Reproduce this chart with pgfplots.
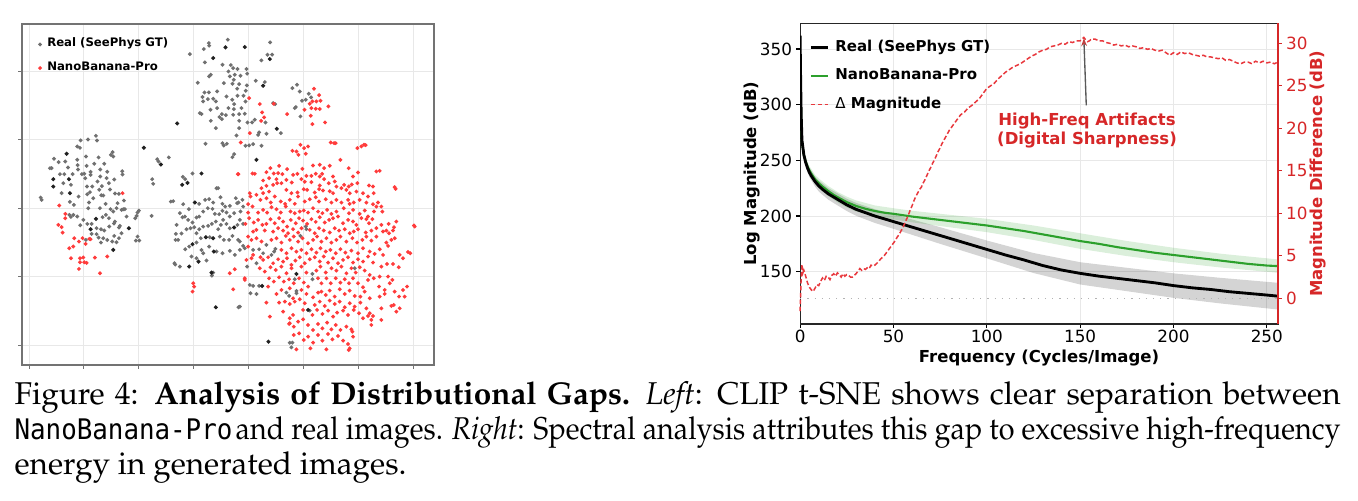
\documentclass[border=0pt]{standalone}
\usepackage[T1,TU]{fontenc}
\usepackage{fontspec}
\usepackage{graphicx}
\usepackage{pgfplots}
\pgfplotsset{compat=1.18}
\usetikzlibrary{arrows.meta}
\newfontfamily\dv{DejaVu Sans}
\newfontfamily\dvmono{DejaVu Sans Mono}[Scale=0.9]
\newcommand\capfont{\fontencoding{T1}\fontfamily{ppl}\selectfont}
\definecolor{tabred}{HTML}{D62728}
\definecolor{tabgreen}{HTML}{2CA02C}
\definecolor{ptred}{HTML}{FF3B3B}
\definecolor{ptgray}{HTML}{707070}
\definecolor{ptdark}{HTML}{202020}
\definecolor{linered}{HTML}{E8383D}
\begin{document}
\begin{tikzpicture}
\useasboundingbox (0,0) rectangle (452.67pt,166.67pt);
% ---------------- left: t-SNE ----------------
\begin{axis}[
  at={(7.33pt,45pt)}, anchor=south west, scale only axis,
  width=137.33pt, height=113.67pt,
  xmin=66, xmax=1303, ymin=13, ymax=1035, y dir=reverse,
  xtick={88,250,415,580,745,910,1075,1240},
  ytick={155,360,565,770,975},
  xticklabel=\empty, yticklabel=\empty,
  xtick pos=left, ytick pos=left, tick align=outside,
  major tick length=1.2pt, tick style={black!55, line width=0.3pt},
  axis line style={black!55, line width=0.4pt},
  grid=major, grid style={black!9, line width=0.3pt},
  legend style={at={(axis description cs:0.032,0.988)}, anchor=north west,
    draw=none, fill=none, font=\dv\bfseries\fontsize{3.9}{4.6}\selectfont,
    row sep=-0.5pt, inner sep=1pt},
  legend cell align=left,
  legend image code/.code={\draw[mark repeat=2,mark phase=2,#1] plot coordinates {(0pt,0pt) (2pt,0pt) (7pt,0pt)};},
]
\addplot[only marks, mark=*, mark size=0.42pt, color=ptgray] coordinates {
(684,60) (627,70) (628,78) (612,88) (570,103) (615,128) (803,105) (817,105) (785,122) (693,136) (668,135) (700,145) (713,148) (740,148) (742,162) (686,155) (705,165) (722,168) (690,170) (633,165) (628,170) (768,183) (795,187) (594,189) (672,190) (702,180) (698,192) (718,193) (712,207) (741,197) (738,213) (614,218) (627,218) (652,215) (608,232) (624,238) (640,237) (680,230) (697,240) (713,228) (731,228) (610,245) (648,245) (703,253) (737,245) (725,265) (702,268) (686,265) (632,270) (652,265) (600,280) (605,283) (666,283) (678,286) (700,285) (718,283) (735,282) (765,300) (659,292) (666,298) (633,303) (718,303) (743,308) (757,308) (797,308) (648,325) (718,325) (843,340) (778,338) (775,345) (710,347) (800,342) (617,372) (668,370) (672,377) (681,372) (737,378) (748,377) (760,373) (785,378) (703,403) (698,412) (820,250) (826,253) (811,68)
(878,205) (892,195) (900,215) (927,222) (934,233) (918,240) (907,243) (885,265) (888,262) (902,290)
(122,533) (125,540) (150,445) (155,445) (162,417) (176,427) (180,463) (185,520) (190,490) (193,463) (196,425) (204,443) (210,546) (213,495) (218,463) (222,555) (232,380) (232,420) (233,436) (234,449) (236,530) (240,384) (242,362) (246,463) (253,462) (256,475) (258,410) (260,438) (261,500) (262,523) (264,359) (265,565) (267,548) (270,517) (272,456) (272,465) (277,500) (280,535) (283,432) (288,348) (291,362) (293,485) (296,413) (298,510) (301,449) (301,470) (304,526) (306,499) (310,527) (313,432) (320,475) (322,456) (327,490) (330,509) (333,405) (338,397) (340,410) (343,479) (345,521) (350,565) (353,550) (357,522) (367,454) (368,464) (370,568) (372,542) (300,565) (332,568) (317,552) (345,605) (342,611) (360,618) (365,640) (357,623) (328,620) (313,632) (303,628) (290,625) (275,612) (262,612) (250,600) (241,616) (232,590) (220,585) (213,591) (208,585) (258,660) (275,642) (290,643) (303,668) (296,653) (310,655) (322,660) (337,665) (350,667) (343,648) (357,655) (410,588) (406,595) (413,578) (417,572) (413,650) (418,662) (408,662) (457,478) (460,492) (455,588) (472,418) (476,425) (507,413) (308,592) (318,585) (327,595) (340,575) (365,570) (375,568) (380,590)
(549,471) (556,478) (578,461) (513,545) (520,544) (550,553) (540,580) (548,592) (567,568) (598,552) (616,540) (628,538) (640,548) (650,505) (655,505) (662,532) (668,552) (676,560) (690,558) (708,535) (712,550) (716,548) (728,540) (730,560) (722,575) (703,580) (690,590) (680,578) (668,573) (658,583) (645,582) (638,567) (624,565) (610,575) (598,590) (590,593) (578,608) (565,600) (555,590) (530,615) (528,642) (535,660) (527,660) (545,641) (560,628) (572,625) (583,622) (590,640) (598,628) (610,620) (625,618) (636,612) (648,605) (655,628) (663,615) (670,600) (680,612) (690,625) (713,615) (720,600) (730,612) (715,660) (720,665) (698,648) (688,660) (672,660) (660,650) (630,652) (603,655) (590,668) (568,680) (556,688) (575,710) (590,715) (605,690) (610,700) (628,680) (650,695) (668,700) (690,693) (705,705) (720,690) (730,678) (735,685) (524,730) (526,734) (540,740) (620,722) (640,758) (636,767) (742,740) (760,690) (778,688) (790,700) (815,705) (823,695) (800,675) (827,687) (750,795) (760,798) (778,798) (752,820) (770,822) (716,862) (720,860) (870,968) (878,968) (875,982) (860,818) (868,828) (890,820) (890,813) (930,872) (885,778) (938,778) (918,620) (920,628) (902,648) (1065,745) (938,762) (770,730)
};
\addlegendentry{Real (SeePhys GT)}
\addplot[only marks, mark=*, mark size=0.45pt, color=ptdark, forget plot] coordinates {
(735,82) (640,115) (810,118) (790,198) (532,311) (831,327) (770,420) (677,83) (160,478) (160,500) (200,402) (207,478) (210,520) (387,625) (288,597) (272,628) (340,690) (432,384) (483,434) (563,489) (547,495) (605,461) (585,548) (703,623) (640,655) (618,652) (578,673) (642,695) (568,740) (596,725) (635,758) (787,798) (648,862) (806,965) (890,762) (925,870)
};
\addplot[only marks, mark=*, mark size=0.42pt, color=ptred] coordinates {
(368,520) (178,557) (196,582) (196,595) (175,615) (185,622) (188,638) (208,685) (213,715) (220,680) (223,655) (237,665) (240,715) (240,727) (237,747) (250,713) (253,727) (257,672) (260,729) (268,657) (272,658) (285,713) (300,760) (322,710) (248,655)
(943,207) (958,226) (938,245) (930,252) (950,245) (962,243) (914,270) (935,265) (948,267) (960,268) (986,260) (862,283) (933,288) (938,313) (976,308) (748,235) (780,253) (787,278) (793,293) (750,340) (784,303) (723,368) (714,463) (716,463) (758,461) (822,252)
(993,368) (1003,370) (1008,370) (1073,385) (1085,380) (1093,375) (1098,376) (878,393) (890,395) (896,405) (902,375) (913,385) (918,402) (925,380) (1022,420)
(838,438) (812,445) (800,457) (822,461) (835,460) (848,463) (862,448) (880,465) (893,462) (908,447) (940,437) (948,462) (960,435) (967,462) (973,445) (990,438) (1047,445) (1000,470) (1060,470) (1075,458) (1130,455) (1140,453) (960,470) (935,468) (920,468) (808,475) (830,478) (790,482) (765,462)
(785,505) (800,498) (808,515) (820,495) (832,490) (845,490) (860,480) (876,488) (905,478) (915,486) (935,487) (960,497) (973,478) (987,490) (1005,485) (1025,505) (1033,495) (1047,500) (1056,494) (1073,490) (1108,497) (1120,500) (1185,502) (1188,507) (860,510) (875,520) (893,518) (912,508) (922,510) (945,518) (958,508) (970,512) (990,514) (1000,520) (1010,500) (1040,510) (1050,520) (1070,515) (1090,520) (1105,530) (1122,520) (750,520) (770,525) (790,520)
(752,530) (782,540) (800,535) (813,548) (825,530) (843,545) (856,552) (870,540) (885,552) (895,530) (915,545) (930,538) (948,532) (958,545) (978,538) (995,548) (1010,540) (1025,548) (1045,540) (1050,552) (1062,548) (1080,540) (1100,548) (1120,553) (1135,548) (1145,560) (1130,560) (745,553) (758,560) (775,578) (790,570) (802,578) (815,562) (830,568) (843,578) (858,560) (872,575) (885,580) (900,575) (912,572) (925,578) (940,565) (955,575) (968,580) (982,570) (995,582) (1010,575) (1032,565) (1048,580) (1060,570) (1080,582) (1095,572) (1105,590) (1123,575) (1148,575) (745,578)
(737,612) (748,595) (762,608) (775,600) (788,615) (800,612) (812,598) (825,610) (838,595) (850,605) (862,620) (873,600) (888,610) (898,595) (910,602) (922,612) (935,598) (948,606) (960,592) (975,608) (988,600) (1000,595) (1015,590) (1030,610) (1045,600) (1060,605) (1070,615) (1085,595) (1100,598) (1108,610) (1118,598) (1145,615) (1160,632) (1167,612) (1183,622) (1190,605) (1243,617) (1245,620) (760,635) (770,630) (795,632) (820,635) (835,625) (850,632) (865,640) (880,628) (895,638) (905,625) (930,630) (945,640) (958,625) (972,632) (990,638) (1005,625) (1018,632) (1035,628) (1050,640) (1062,635) (1075,628) (1098,638) (1115,632) (1130,625) (1150,635) (1168,640) (1180,632) (1185,655)
(745,650) (755,660) (770,655) (785,665) (815,660) (830,655) (845,668) (858,648) (870,660) (882,650) (895,665) (908,655) (925,670) (940,660) (952,650) (965,665) (980,655) (995,668) (1010,660) (1022,650) (1040,665) (1058,655) (1072,668) (1088,660) (1100,650) (1115,662) (1130,650) (1160,668) (1165,678) (1175,660) (745,680) (760,705) (782,712) (845,690) (860,700) (875,685) (890,695) (905,690) (920,700) (935,688) (950,698) (962,685) (978,695) (992,690) (1008,700) (1022,688) (1037,698) (1055,692) (1075,700) (1090,685) (1110,695) (1125,702) (1140,688) (1150,705) (1225,696) (1232,700) (1200,705)
(690,760) (705,748) (740,720) (755,715) (790,720) (805,712) (820,730) (835,718) (850,725) (862,715) (875,735) (887,722) (900,712) (915,730) (930,718) (945,712) (960,725) (972,710) (985,728) (1000,715) (1015,730) (1030,720) (1045,712) (1060,728) (1075,718) (1090,725) (1105,710) (1120,728) (1145,740) (1162,732) (1180,732) (1197,742) (1210,715) (780,745) (795,755) (812,742) (828,750) (845,740) (860,760) (875,745) (905,740) (920,758) (950,752) (962,740) (978,758) (995,745) (1010,752) (1025,740) (1040,760) (1055,745) (1068,758) (1080,742) (1095,752) (1110,765) (1140,770) (1165,770) (1178,780) (735,775) (735,780) (580,790) (583,800) (578,815)
(808,775) (822,785) (838,772) (852,785) (868,778) (882,790) (898,775) (912,788) (925,800) (955,775) (965,790) (980,775) (993,790) (1008,775) (1022,788) (1035,778) (1048,790) (1060,775) (1075,790) (1090,802) (1105,780) (1122,775) (1138,800) (1155,810) (1170,790) (1185,815) (1198,830) (1210,810) (1222,800) (1215,830) (805,800) (830,822) (845,810) (870,805) (880,835) (905,810) (920,822) (940,832) (955,818) (965,815) (978,825) (990,812) (1005,830) (1020,808) (1035,822) (1050,812) (1065,828) (1082,830) (1095,815) (1110,835) (1140,830) (1155,822) (700,808) (800,848)
(838,848) (855,845) (870,852) (885,845) (900,838) (915,850) (945,855) (960,845) (975,858) (990,842) (1005,852) (1020,845) (1035,862) (1050,850) (1065,860) (1082,848) (1100,865) (1110,880) (1120,888) (1105,888) (1090,895) (1145,865) (1175,858) (1182,855) (1190,875) (1200,865) (910,870) (938,885) (952,870) (968,882) (985,872) (1000,890) (1012,878) (1030,872) (1045,885) (1062,870) (1078,880) (810,890) (850,875) (870,895) (880,885)
(868,912) (882,920) (895,905) (910,898) (925,915) (940,930) (955,912) (968,925) (982,908) (995,928) (1008,915) (1022,930) (1040,920) (1055,928) (1058,935) (1115,900) (1115,915) (1145,900) (882,945) (898,940) (912,960) (925,950) (940,968) (955,945) (968,962) (985,942) (998,958) (1015,948) (1030,962) (1045,972) (1060,950) (890,988) (932,985) (980,988) (1047,990) (1050,985) (870,910)
};
\addlegendentry{NanoBanana-Pro}
\end{axis}
% ---------------- right: spectrum ----------------
\begin{axis}[
  at={(266.7pt,58.67pt)}, anchor=south west, scale only axis,
  width=159.3pt, height=100.2pt,
  xmin=0, xmax=256, ymin=103, ymax=373,
  xtick={0,50,...,250}, ytick={150,200,...,350},
  xtick pos=left, ytick pos=left, tick align=outside,
  major tick length=1.3pt, tick style={black, line width=0.35pt},
  axis line style={black!85, line width=0.4pt},
  grid=major, grid style={black!9, line width=0.3pt},
  ticklabel style={font=\dv\fontsize{5.6}{6.5}\selectfont},
  xticklabel style={inner sep=0.4pt},
  yticklabel style={inner sep=1.2pt},
  /pgf/number format/assume math mode=true,
  xlabel={Frequency (Cycles/Image)}, ylabel={Log Magnitude (dB)},
  label style={font=\dv\bfseries\fontsize{5.5}{6.5}\selectfont},
  xlabel style={at={(axis description cs:0.5,-0.112)}, anchor=center},
  ylabel style={at={(axis description cs:-0.1,0.5)}, anchor=center},
  legend style={at={(axis description cs:0.012,0.978)}, anchor=north west,
    draw=none, fill=none, font=\dv\bfseries\fontsize{5}{6}\selectfont,
    row sep=0.3pt, inner sep=1pt},
  legend cell align=left,
  legend image code/.code={\draw[#1] (0pt,0pt) -- (5.7pt,0pt);},
]
\addplot[fill=black, fill opacity=0.17, draw=none, forget plot] coordinates {
(1,271) (2,258.2) (3,251.4) (5,243) (8,235.5) (10,232) (15,225.2) (20,220.4) (25,215.5) (30,211.8) (40,206.2) (50,201.5) (60,196.9) (75,190) (90,182.8) (100,178) (125,166.8) (150,158.5) (175,153.5) (200,148.5) (225,144.5) (256,140)
(256,116) (225,121.5) (200,126.5) (175,132.5) (150,138.5) (125,148.8) (100,162) (90,167.2) (75,175) (60,183.1) (50,188.5) (40,193.8) (30,200.2) (25,204.5) (20,209.6) (15,214.8) (10,222) (8,226.5) (5,235) (3,244.6) (2,251.8) (1,265)
};
\addplot[fill=tabgreen, fill opacity=0.17, draw=none, forget plot] coordinates {
(1,269) (2,258.2) (3,252.4) (5,244.8) (8,237) (10,233.7) (15,227) (20,221.7) (25,217.4) (30,214) (40,209.5) (50,207) (60,204.7) (75,202) (100,197.5) (125,191.5) (150,184.5) (175,177.6) (200,171.5) (225,166.2) (256,161)
(256,149) (225,153.8) (200,158.5) (175,164) (150,170.5) (125,178.5) (100,185.5) (75,191) (60,194.3) (50,197) (40,199.5) (30,204) (25,207.6) (20,212.3) (15,218) (10,225.3) (8,229) (5,237.2) (3,245.6) (2,251.8) (1,263)
};
\addplot[tabgreen, line width=0.7pt, forget plot] coordinates {
(0,340) (0.3,310) (0.6,285) (1,266) (2,255) (3,249) (4,244.5) (5,241) (6,238) (8,233) (10,229.5) (12,226.5) (15,222.5) (18,219) (20,217) (25,212.5) (30,209) (35,206.5) (40,204.5) (45,203) (50,202) (60,199.5) (70,197.5) (80,195.5) (90,193.5) (100,191.5) (110,189) (120,186.5) (130,183.5) (140,180.5) (150,177.5) (160,175) (170,172) (180,169.5) (190,167) (200,165) (210,163) (220,161) (230,159) (240,157) (250,155.5) (256,155)
};
\addplot[black, line width=0.95pt] coordinates {
(0,362) (0.3,320) (0.6,290) (1,268) (2,255) (3,248) (4,243) (5,239) (6,236) (8,231) (10,227) (12,224) (15,220) (18,217) (20,215) (25,210) (30,206) (35,203) (40,200) (45,197.5) (50,195) (55,192.5) (60,190) (65,187.5) (70,185) (75,182.5) (80,180) (90,175) (100,170) (110,165) (120,160.5) (130,155.5) (140,151.5) (150,148.5) (160,146) (170,144) (180,142) (190,140) (200,137.5) (210,135.5) (220,134) (230,132) (240,130.5) (250,129) (256,128)
};
\addlegendentry{Real (SeePhys GT)}
\addlegendimage{tabgreen, line width=0.7pt}
\addlegendentry{NanoBanana-Pro}
\addlegendimage{linered, line width=0.5pt, dash pattern=on 1.5pt off 0.8pt}
\addlegendentry{{\mdseries Δ} Magnitude}
\end{axis}
\begin{axis}[
  at={(266.7pt,58.67pt)}, anchor=south west, scale only axis,
  width=159.3pt, height=100.2pt,
  xmin=0, xmax=256, ymin=-3.02, ymax=32.35,
  axis x line=none, axis y line*=right,
  ytick={0,5,...,30}, tick align=outside,
  major tick length=1.3pt, ytick style={tabred, line width=0.35pt},
  y axis line style={tabred, line width=0.5pt},
  yticklabel style={font=\dv\fontsize{5.6}{6.5}\selectfont, text=tabred, inner sep=1.2pt},
  /pgf/number format/assume math mode=true,
  ylabel={Magnitude Difference (dB)},
  ylabel style={font=\dv\bfseries\fontsize{5.5}{6.5}\selectfont, text=tabred,
    at={(axis description cs:1.083,0.5)}, anchor=center},
  clip=false,
]
\addplot[black!30, dotted, line width=0.4pt] coordinates {(0,0) (256,0)};
\addplot[linered, line width=0.5pt, dash pattern=on 1.5pt off 0.8pt] coordinates {
(0,-1.5) (0.5,2) (1,4.0) (1.5,3.0) (2,3.3) (3,2.6) (4,1.8) (5,1.3) (6,1.0) (7,0.8) (8,1.2) (9,1.6) (10,1.5) (11,2.0) (12,2.4) (13,2.1) (14,2.6) (15,2.5) (16,2.2) (17,2.7) (18,2.9) (19,2.6) (20,3.0) (21,2.8) (22,2.5) (23,2.9) (24,2.6) (25,2.8) (26,2.7) (27,2.5) (28,2.5) (29,2.7) (30,2.9) (31,3.2) (32,3.5) (33,3.3) (34,3.5) (35,3.4) (36,3.6) (37,3.5) (38,3.9) (39,3.8) (40,3.9) (41,4.1) (42,4.3) (43,4.6) (44,4.8) (45,5.0) (46,5.3) (47,5.6) (48,5.9) (49,6.2) (50,6.5) (51,6.8) (52,7.2) (53,7.5) (54,7.9) (55,8.3) (56,8.8) (57,9.3) (58,9.8) (59,10.4) (60,10.9) (61,11.5) (62,12.0) (63,12.4) (64,12.8) (65,13.1) (66,13.6) (67,14.0) (68,14.5) (69,15.0) (70,15.4) (71,15.9) (72,16.3) (73,16.8) (74,17.3) (75,17.7) (76,18.2) (77,18.6) (78,19.0) (79,19.4) (80,19.8) (82,20.4) (84,21.0) (86,21.6) (88,21.9) (90,22.4) (92,22.7) (94,23.1) (96,23.5) (98,24.1) (100,24.7) (102,25.0) (104,25.3) (106,25.8) (108,26.2) (110,26.6) (112,26.9) (114,27.2) (116,27.4) (118,27.6) (120,27.9) (122,28.2) (124,28.5) (126,28.7) (128,29.0) (130,29.2) (132,29.3) (134,29.6) (136,29.7) (138,29.8) (140,30.0) (142,29.9) (144,30.2) (146,30.1) (148,30.3) (150,30.3) (151,30.5) (152,30.7) (153,30.4) (154,30.2) (155,30.3) (156,30.5) (158,30.5) (160,30.3) (162,30.3) (164,30.1) (166,30.0) (168,29.8) (170,29.9) (172,29.7) (174,29.8) (176,29.6) (178,29.7) (180,29.6) (182,29.4) (184,29.5) (186,29.3) (188,29.4) (190,29.2) (192,29.1) (194,29.2) (196,28.9) (198,28.6) (200,28.9) (202,28.7) (204,29.0) (206,28.8) (208,28.9) (210,28.7) (212,28.6) (214,28.5) (216,28.6) (218,28.4) (220,28.4) (222,28.3) (224,28.2) (226,28.3) (228,28.0) (230,28.1) (232,27.9) (234,27.7) (236,27.6) (238,27.8) (240,27.8) (242,27.6) (244,27.9) (246,27.7) (248,27.9) (250,27.7) (252,27.8) (254,27.6) (256,27.8)
};
\draw[gray!70!black, line width=0.45pt, -{Stealth[length=2.6pt,width=1.9pt,color=red!50!gray,fill=red!50!gray]}] (axis cs:153.3,22.7) -- (axis cs:152,30.6);
\node[font=\dv\bfseries\fontsize{5.5}{6.4}\selectfont, text=tabred, align=center, anchor=north, inner sep=0pt] at (axis cs:153.7,21.85) {High-Freq Artifacts\\(Digital Sharpness)};
\end{axis}
% ---------------- caption ----------------
\node[anchor=base west, inner sep=0pt] at (4.67pt,32pt) {\capfont\fontsize{10.5}{11.67}\selectfont\hbox to 442pt{Figure 4:\enspace\textbf{Analysis of Distributional Gaps.}\enspace\textit{Left}: CLIP t-SNE shows clear separation between}};
\node[anchor=base west, inner sep=0pt] at (4.67pt,20.33pt) {\resizebox{442pt}{\height}{\capfont\fontsize{10.5}{11.67}\selectfont{\dvmono NanoBanana-Pro}\hspace{1.2pt}and real images. \textit{Right}: Spectral analysis attributes this gap to excessive high-frequency}};
\node[anchor=base west, inner sep=0pt] at (4.67pt,8.67pt) {\capfont\fontsize{10.5}{11.67}\selectfont energy in generated images.};
\end{tikzpicture}
\end{document}
